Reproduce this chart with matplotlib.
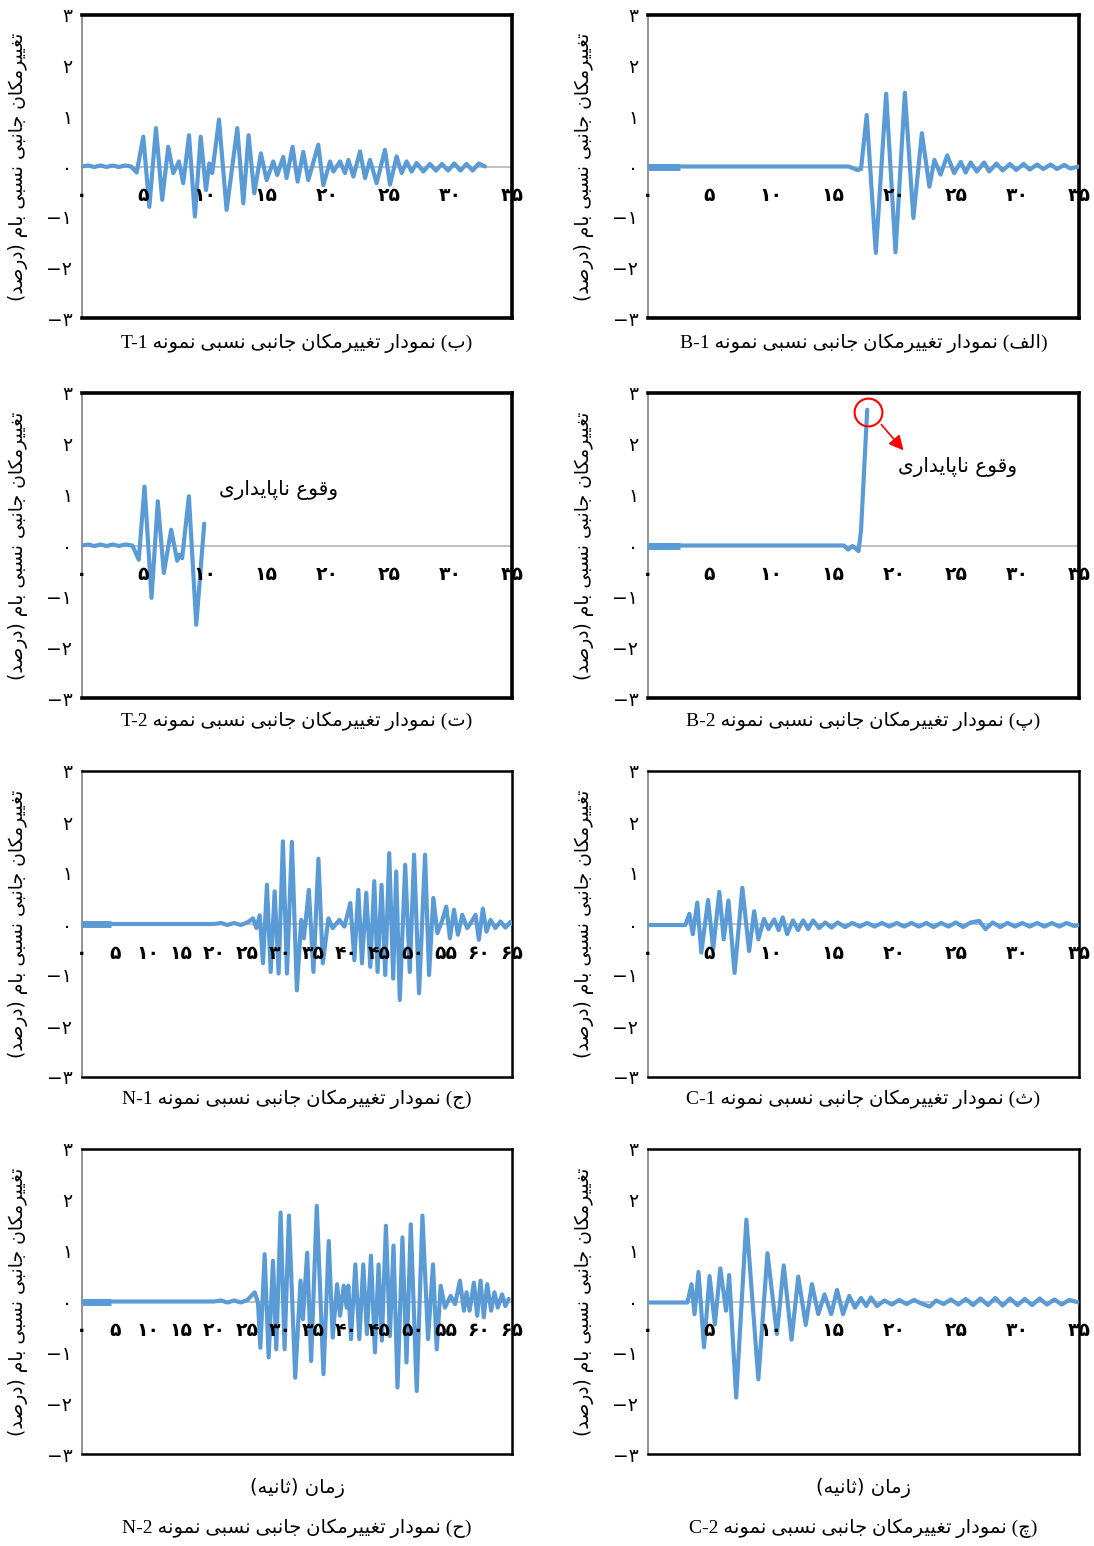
import matplotlib
matplotlib.use('Agg')
import matplotlib.pyplot as plt
import numpy as np

plt.rcParams['font.family'] = ['DejaVu Sans']

# presentation forms (isolated, final, initial, medial) for the persian letters used here
FORMS = {
    '\u0627': '\ufe8d\ufe8e',
    '\u0628': '\ufe8f\ufe90\ufe91\ufe92',
    '\u067e': '\ufb56\ufb57\ufb58\ufb59',
    '\u062a': '\ufe95\ufe96\ufe97\ufe98',
    '\u062b': '\ufe99\ufe9a\ufe9b\ufe9c',
    '\u062c': '\ufe9d\ufe9e\ufe9f\ufea0',
    '\u0686': '\ufb7a\ufb7b\ufb7c\ufb7d',
    '\u062d': '\ufea1\ufea2\ufea3\ufea4',
    '\u062f': '\ufea9\ufeaa',
    '\u0631': '\ufead\ufeae',
    '\u0632': '\ufeaf\ufeb0',
    '\u0633': '\ufeb1\ufeb2\ufeb3\ufeb4',
    '\u0635': '\ufeb9\ufeba\ufebb\ufebc',
    '\u0639': '\ufec9\ufeca\ufecb\ufecc',
    '\u063a': '\ufecd\ufece\ufecf\ufed0',
    '\u0641': '\ufed1\ufed2\ufed3\ufed4',
    '\u0642': '\ufed5\ufed6\ufed7\ufed8',
    '\u06a9': '\ufb8e\ufb8f\ufb90\ufb91',
    '\u0644': '\ufedd\ufede\ufedf\ufee0',
    '\u0645': '\ufee1\ufee2\ufee3\ufee4',
    '\u0646': '\ufee5\ufee6\ufee7\ufee8',
    '\u0647': '\ufee9\ufeea\ufeeb\ufeec',
    '\u0648': '\ufeed\ufeee',
    '\u06cc': '\ufbfc\ufbfd\ufbfe\ufbff',
}


def fa(s):
    # shape and put in visual order (no bidi library available)
    s = s.replace('\u064a', '\u06cc').replace('\u0643', '\u06a9')
    out = []
    for i, c in enumerate(s):
        f = FORMS.get(c)
        if f is None:
            out.append(c)
            continue
        prev = s[i - 1] if i > 0 else ''
        nxt = s[i + 1] if i + 1 < len(s) else ''
        jp = prev in FORMS and len(FORMS[prev]) == 4
        jn = len(f) == 4 and nxt in FORMS
        if jp and jn:
            out.append(f[3])
        elif jp:
            out.append(f[1])
        elif jn:
            out.append(f[2])
        else:
            out.append(f[0])
    swap = {'(': ')', ')': '('}
    return ''.join(swap.get(c, c) for c in reversed(out))


FA_DIGITS = '۰۱۲۳۴۵۶۷۸۹'


def fa_num(n):
    s = ''.join(FA_DIGITS[int(c)] if c.isdigit() else c for c in str(n))
    return s.replace('-', '\u2212')


# ---- data (time in s, roof drift in %) ----
y_ticks = [-3, -2, -1, 0, 1, 2, 3]
x_ticks_35 = [0, 5, 10, 15, 20, 25, 30, 35]
x_ticks_65 = [0, 5, 10, 15, 20, 25, 30, 35, 40, 45, 50, 55, 60, 65]

t_b1 = [0, 16.3, 17.0, 17.3, 17.76, 18.5, 19.34, 20.1, 20.86, 21.55, 22.24, 22.85, 23.26, 23.76,
        24.3, 24.86, 25.4, 25.8, 26.2, 26.7, 27.3, 27.7, 28.3, 28.8, 29.4, 29.9, 30.5, 31.0, 31.6,
        32.1, 32.7, 33.2, 33.8, 34.3, 35.0]
v_b1 = [0, 0, -0.07, -0.05, 1.02, -1.71, 1.44, -1.70, 1.46, -1.02, 0.66, -0.40, 0.13, -0.16,
        0.22, -0.13, 0.09, -0.12, 0.08, -0.10, 0.08, -0.10, 0.06, -0.08, 0.05, -0.07, 0.05, -0.06, 0.04,
        -0.05, 0.04, -0.05, 0.03, -0.04, 0.0]

t_t1 = [0, 0.5, 1.0, 1.5, 2.0, 2.5, 3.0, 3.5, 4.0, 4.45, 4.99, 5.48, 6.02, 6.53, 7.02, 7.43, 7.89,
        8.24, 8.71, 9.19, 9.66, 10.09, 10.36, 10.6, 11.15, 11.77, 12.64, 13.13, 13.56, 14.02, 14.56,
        15.03, 15.57, 15.89, 16.38, 16.65, 17.14, 17.55, 18.01, 18.42, 19.23, 19.64, 20.19, 20.46,
        21.0, 21.41, 21.68, 22.09, 22.63, 23.04, 23.44, 23.98, 24.66, 25.07, 25.61, 26.02, 26.42,
        26.83, 27.24, 27.78, 28.32, 28.8, 29.3, 29.8, 30.3, 30.8, 31.3, 31.8, 32.3, 32.8]
v_t1 = [0, 0.02, -0.01, 0.02, -0.01, 0.02, -0.01, 0.02, 0.0, -0.12, 0.59, -0.80, 0.76, -0.66, 0.39,
        -0.13, 0.10, -0.33, 0.62, -0.99, 0.59, -0.47, 0.06, -0.13, 0.93, -0.86, 0.76, -0.73, 0.62,
        -0.53, 0.26, -0.27, 0.10, -0.17, 0.19, -0.23, 0.39, -0.30, 0.29, -0.27, 0.43, -0.37, 0.10,
        -0.10, 0.10, -0.13, 0.13, -0.20, 0.30, -0.23, 0.13, -0.33, 0.33, -0.36, 0.20, -0.13, 0.10,
        -0.10, 0.07, -0.10, 0.05, -0.08, 0.05, -0.08, 0.06, -0.08, 0.05, -0.08, 0.06, 0.0]

t_b2 = [0, 15.9, 16.25, 16.6, 17.1, 17.3, 17.8]
v_b2 = [0, 0, -0.08, -0.01, -0.11, 0.3, 2.67]

t_t2 = [0, 0.5, 1.0, 1.5, 2.0, 2.5, 3.0, 3.5, 4.1, 4.62, 5.09, 5.66, 6.17, 6.66, 7.26, 7.75, 7.95,
        8.15, 8.7, 9.3, 9.95]
v_t2 = [0, 0.02, -0.01, 0.02, -0.01, 0.02, -0.01, 0.02, 0.0, -0.28, 1.16, -1.03, 0.87, -0.54, 0.31,
        -0.30, -0.18, -0.25, 0.97, -1.56, 0.43]

t_c1 = [0, 3.03, 3.36, 3.64, 4.0, 4.33, 4.88, 5.29, 5.79, 6.15, 6.53, 7.03, 7.66, 8.21, 8.62, 8.96,
        9.42, 9.78, 10.25, 10.61, 10.94, 11.3, 11.77, 12.18, 12.6, 13.0, 13.4, 13.9, 14.4, 14.9, 15.4,
        16.0, 16.6, 17.2, 17.8, 18.4, 19.0, 19.6, 20.2, 20.8, 21.4, 22.0, 22.6, 23.2, 23.8, 24.4,
        25.0, 25.6, 26.2, 26.9, 27.4, 28.0, 28.6, 29.2, 29.8, 30.4, 31.0, 31.6, 32.2, 32.8, 33.4,
        34.0, 34.6, 35.0]
v_c1 = [-0.02, -0.02, 0.2, -0.2, 0.42, -0.56, 0.47, -0.49, 0.63, -0.30, 0.46, -0.96, 0.71, -0.53,
        0.25, -0.30, 0.10, -0.10, 0.09, -0.12, 0.13, -0.20, 0.07, -0.12, 0.07, -0.10, 0.07, -0.08,
        0.03, -0.07, 0.03, -0.06, 0.02, -0.05, 0.02, -0.05, 0.02, -0.05, 0.02, -0.05, 0.02, -0.05,
        0.02, -0.06, 0.02, -0.05, 0.03, -0.06, 0.03, 0.06, -0.10, 0.03, -0.06, 0.02, -0.05, 0.02,
        -0.05, 0.02, -0.05, 0.02, -0.05, 0.02, -0.04, -0.02]

t_n1 = [0, 20.0, 21.0, 22.0, 23.0, 24.0, 25.0, 25.85, 26.36, 26.86, 27.36, 27.96, 28.52, 29.12,
        29.72, 30.37, 30.98, 31.73, 32.48, 33.13, 33.54, 34.29, 34.99, 35.74, 36.4, 37.25, 37.9,
        38.9, 39.66, 40.56, 41.17, 41.77, 42.32, 42.97, 43.58, 44.18, 44.68, 45.28, 45.84, 46.44,
        47.04, 47.49, 48.04, 48.85, 49.55, 50.2, 50.95, 51.86, 52.46, 53.11, 53.72, 54.4, 55.07,
        55.62, 56.23, 56.83, 57.48, 58.23, 58.9, 59.49, 59.99, 60.59, 61.15, 61.75, 62.5, 63.26,
        64.0, 64.76, 65.0]
v_n1 = [0, 0, 0.02, -0.02, 0.02, -0.02, 0.03, 0.11, -0.08, 0.17, -0.77, 0.77, -0.94, 0.64, -0.97,
        1.62, -0.97, 1.61, -1.30, 0.08, -0.28, 0.67, -0.94, 1.28, -0.77, 0.11, -0.08, 0.08, -0.05,
        0.41, -0.71, 0.67, -0.77, 0.61, -0.84, 0.84, -0.94, 0.77, -1.0, 1.39, -1.07, 1.03, -1.49,
        1.16, -0.94, 1.36, -1.36, 1.36, -1.0, 0.51, -0.18, 0.05, 0.34, -0.28, 0.28, -0.21, 0.18,
        -0.08, 0.05, 0.18, -0.31, 0.30, -0.15, 0.08, -0.08, 0.05, -0.07, 0.04, 0.0]

t_c2 = [0, 3.2, 3.53, 3.78, 4.1, 4.55, 5.0, 5.43, 5.87, 6.34, 6.59, 7.16, 7.99, 8.96, 9.7, 10.47,
        11.02, 11.66, 12.2, 12.81, 13.31, 13.83, 14.33, 14.88, 15.35, 15.84, 16.34, 16.81, 17.3,
        17.72, 18.1, 18.6, 19.2, 19.8, 20.4, 21.0, 21.6, 22.2, 22.87, 23.4, 24.0, 24.6, 25.2, 25.8,
        26.4, 27.0, 27.6, 28.2, 28.8, 29.4, 30.0, 30.6, 31.2, 31.8, 32.4, 33.0, 33.6, 34.2, 35.0]
v_c2 = [-0.02, -0.02, 0.34, -0.25, 0.58, -0.90, 0.50, -0.45, 0.65, -0.18, 0.52, -1.89, 1.61, -1.53,
        0.95, -0.64, 0.71, -0.75, 0.49, -0.46, 0.34, -0.25, 0.14, -0.25, 0.23, -0.25, 0.11, -0.12,
        0.07, -0.09, 0.08, -0.09, 0.02, -0.06, 0.03, -0.05, 0.03, -0.04, -0.10, 0.02, -0.05, 0.04,
        -0.06, 0.05, -0.07, 0.06, -0.07, 0.07, -0.08, 0.06, -0.07, 0.05, -0.07, 0.06, -0.06, 0.04,
        -0.06, 0.03, -0.02]

t_n2 = [0, 20.0, 21.0, 22.0, 23.0, 24.0, 25.0, 26.1, 26.6, 26.96, 27.61, 28.21, 28.87, 29.37, 30.02,
        30.62, 31.28, 32.23, 33.03, 33.39, 34.04, 34.64, 35.49, 36.5, 37.3, 37.9, 38.56, 39.01,
        39.56, 40.01, 40.26, 40.66, 41.32, 41.92, 42.52, 43.07, 43.68, 44.28, 44.83, 45.33, 45.94,
        46.54, 47.09, 47.69, 48.44, 49.05, 49.7, 50.6, 51.46, 52.31, 53.06, 53.62, 54.22, 54.87,
        55.72, 56.4, 57.13, 57.73, 58.13, 58.59, 59.24, 59.74, 60.24, 60.74, 61.25, 61.85, 62.35,
        62.85, 63.5, 64.0, 64.5]
v_n2 = [0, 0, 0.02, -0.02, 0.02, -0.02, 0.03, 0.18, -0.02, -0.91, 0.93, -1.10, 0.80, -0.94, 1.75,
        -0.94, 1.69, -1.50, 0.41, -0.35, 0.96, -1.17, 1.88, -1.43, 1.19, -0.71, 0.34, -0.28, 0.31,
        -0.12, 0.31, -0.74, 0.73, -0.74, 0.73, -0.64, 0.90, -1.0, 0.73, -0.77, 1.49, -0.68, 1.10,
        -1.69, 1.26, -1.20, 1.52, -1.76, 1.69, -0.74, 0.73, -0.94, 0.31, -0.12, 0.11, -0.05, 0.41,
        -0.18, 0.18, -0.18, 0.37, -0.28, 0.41, -0.31, 0.34, -0.18, 0.18, -0.12, 0.14, -0.09, 0.05]

names = ['B-1', 'T-1', 'B-2', 'T-2', 'C-1', 'N-1', 'C-2', 'N-2']
letters = ['الف', 'ب', 'پ', 'ت', 'ث', 'ج', 'چ', 'ح']

ylabel_txt = 'تغییرمکان جانبی نسبی بام (درصد)'
caption_txt = 'نمودار تغییرمکان جانبی نسبی نمونه'
xlabel_txt = 'زمان (ثانیه)'
note_txt = 'وقوع ناپایداری'

# ---- layout ----
BLUE = '#5b9bd5'
W, H = 1094, 1546
fig = plt.figure(figsize=(W / 100, H / 100), dpi=100)

cols = [(648, 1079), (82, 512)]          # right, left
rows = [(15, 318), (393, 698), (771, 1077), (1149, 1454)]
cap_y = [343, 721, 1099, 1528]

series = [(t_b1, v_b1), (t_t1, v_t1), (t_b2, v_b2), (t_t2, v_t2),
          (t_c1, v_c1), (t_n1, v_n1), (t_c2, v_c2), (t_n2, v_n2)]
xticks_of = [x_ticks_35, x_ticks_35, x_ticks_35, x_ticks_35,
             x_ticks_35, x_ticks_65, x_ticks_35, x_ticks_65]
thick_to = [2.6, None, 2.6, None, None, 4.4, None, 4.4]

axes = []
for i, (t, v) in enumerate(series):
    r, c = i // 2, i % 2
    x0, x1 = cols[c]
    y0, y1 = rows[r]
    ax = fig.add_axes([x0 / W, 1 - y1 / H, (x1 - x0) / W, (y1 - y0) / H])
    axes.append(ax)
    xt = xticks_of[i]
    ax.set_xlim(0, xt[-1])
    ax.set_ylim(-3, 3)
    ax.axhline(0, color='#c0c0c0', lw=1.4, zorder=1)
    ax.plot(t, v, color=BLUE, lw=3.0, solid_joinstyle='round', solid_capstyle='round', zorder=3)
    if thick_to[i]:
        ax.plot([t[0], thick_to[i]], [v[0], v[0]], color=BLUE, lw=5, solid_capstyle='butt', zorder=3)

    ax.set_xticks([])
    for xv in xt:
        ax.text(xv, -0.58, fa_num(xv), ha='center', va='center', fontsize=13.5,
                fontweight='bold', zorder=4)
    ax.set_yticks(y_ticks)
    ax.set_yticklabels([fa_num(y) for y in y_ticks], fontsize=13.5)
    ax.tick_params(axis='y', length=0, pad=7)

    bold = r < 2
    for side in ['top', 'right', 'bottom']:
        ax.spines[side].set_linewidth(2.6 if bold else 1.8)
        ax.spines[side].set_color('black')
    ax.spines['left'].set_linewidth(1.2)
    ax.spines['left'].set_color('#808080')

    ax.set_ylabel(fa(ylabel_txt), fontsize=13.5)
    ax.yaxis.set_label_coords(-0.125, 0.5)

    cx = (x0 + x1) / 2 / W
    cap = names[i] + ' ' + fa('(' + letters[i] + ') ' + caption_txt)
    fig.text(cx, 1 - cap_y[r] / H, cap, ha='center', va='center', fontsize=14,
             family=['Liberation Serif', 'DejaVu Sans'])
    if r == 3:
        fig.text(cx, 1 - 1488 / H, fa(xlabel_txt), ha='center', va='center', fontsize=14)

# instability notes
axes[3].text(16.0, 1.1, fa(note_txt), ha='center', va='center', fontsize=14.5)
ax = axes[2]
ax.plot([t_b2[-1] + 0.1], [v_b2[-1] - 0.05], 'o', ms=20, mfc='none', mec='red', mew=1.5, zorder=5)
ax.annotate('', xy=(20.9, 1.83), xytext=(18.8, 2.42),
            arrowprops=dict(arrowstyle='-|>', color='red', lw=1.2, mutation_scale=22))
ax.text(25.1, 1.55, fa(note_txt), ha='center', va='center', fontsize=14.5)

fig.savefig('out.png', dpi=100)
